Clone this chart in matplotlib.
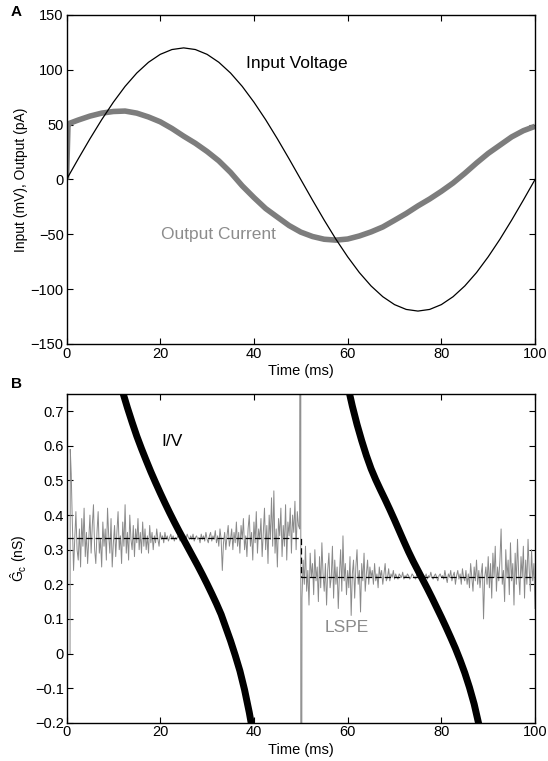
import matplotlib
matplotlib.use("Agg")
import matplotlib.pyplot as plt
import numpy as np

plt.rcParams['font.family'] = ['Liberation Sans', 'DejaVu Sans']
plt.rcParams['mathtext.fontset'] = 'custom'
plt.rcParams['mathtext.rm'] = 'Liberation Sans'
plt.rcParams['mathtext.it'] = 'Liberation Sans:italic'

# ---- panel A data ----
volt_t = np.linspace(0, 100, 41)
volt = [0, 18.8, 37.1, 54.5, 70.5, 84.9, 97.1, 106.9, 114.1, 118.5, 120,
        118.5, 114.1, 106.9, 97.1, 84.9, 70.5, 54.5, 37.1, 18.8, 0,
        -18.8, -37.1, -54.5, -70.5, -84.9, -97.1, -106.9, -114.1, -118.5, -120,
        -118.5, -114.1, -106.9, -97.1, -84.9, -70.5, -54.5, -37.1, -18.8, 0]

cur_t = [0, 0.3, 0.5] + list(np.linspace(2.5, 100, 40))
cur = [0, 48, 51,
       54.2, 57.8, 60.5, 62.0, 62.4, 60.5, 57.0, 52.6, 46.5, 39.5,
       33.0, 25.5, 17.0, 6.5, -5.8, -16.5, -26.5, -34.3, -42.0, -48.0,
       -52.0, -54.5, -55.3, -54.3, -51.5, -47.8, -43.3, -37.2, -31.0, -24.1,
       -17.8, -10.8, -3.2, 5.6, 15.0, 23.8, 31.3, 38.8, 44.5, 48.5]

# ---- panel B data ----
iv1_t = [11, 12, 13, 14, 15, 16, 17, 18, 19, 20, 21, 22, 23, 24, 25, 26, 27, 28,
         29, 30, 31, 32, 33, 34, 35, 36, 37, 38, 39, 40]
iv1 = [0.80, 0.755, 0.71, 0.668, 0.628, 0.592, 0.558, 0.525, 0.494, 0.464,
       0.435, 0.407, 0.380, 0.354, 0.329, 0.304, 0.279, 0.254, 0.228, 0.201,
       0.173, 0.144, 0.113, 0.075, 0.037, -0.005, -0.05, -0.105, -0.17, -0.245]
iv2_t = [59, 60, 61, 62, 63, 64, 65, 66, 67, 68, 69, 70, 71, 72, 73, 74, 75, 76,
         77, 78, 79, 80, 81, 82, 83, 84, 85, 86, 87, 88, 88.5]
iv2 = [0.83, 0.775, 0.715, 0.662, 0.615, 0.572, 0.534, 0.502, 0.473, 0.445,
       0.416, 0.386, 0.355, 0.324, 0.294, 0.266, 0.240, 0.214, 0.188, 0.161,
       0.133, 0.105, 0.076, 0.046, 0.015, -0.019, -0.056, -0.098, -0.146,
       -0.205, -0.24]

true_t = [0, 50, 50, 100]
true_g = [0.3333, 0.3333, 0.2222, 0.2222]

lspe_head_t = [0.75, 0.8, 1.0, 1.2]
lspe_head = [0.0, 0.59, 0.52, 0.40]
# samples every 0.25 ms from 1.5 to 49.5 ms
lspe1 = [0.24, 0.33, 0.41, 0.30, 0.27, 0.36, 0.25, 0.39, 0.31, 0.42, 0.28, 0.35, 0.26, 0.33, 0.40, 0.29, 0.37, 0.43, 0.30, 0.26,
         0.35, 0.41, 0.29, 0.33, 0.25, 0.38, 0.31, 0.36, 0.27, 0.42, 0.34, 0.29, 0.39, 0.25, 0.32, 0.37, 0.28, 0.35, 0.41, 0.30,
         0.34, 0.26, 0.38, 0.31, 0.43, 0.29, 0.35, 0.27, 0.40, 0.33, 0.30, 0.37, 0.28, 0.36, 0.32, 0.39, 0.30, 0.35, 0.29, 0.38,
         0.31, 0.36, 0.30, 0.34, 0.29, 0.37, 0.32, 0.35, 0.30, 0.34, 0.32, 0.36, 0.33, 0.31, 0.35, 0.33, 0.34, 0.32, 0.35, 0.33,
         0.34, 0.325, 0.335, 0.345, 0.33, 0.34, 0.325, 0.335, 0.33, 0.34, 0.335, 0.325, 0.345, 0.33, 0.335, 0.34, 0.33, 0.345, 0.335, 0.33,
         0.34, 0.33, 0.345, 0.325, 0.335, 0.34, 0.33, 0.335, 0.32, 0.345, 0.33, 0.34, 0.325, 0.35, 0.33, 0.32, 0.34, 0.35, 0.325, 0.34,
         0.33, 0.355, 0.32, 0.34, 0.31, 0.36, 0.33, 0.24, 0.32, 0.35, 0.30, 0.34, 0.37, 0.31, 0.33, 0.36, 0.30, 0.35, 0.32, 0.38,
         0.31, 0.35, 0.29, 0.37, 0.33, 0.39, 0.30, 0.34, 0.28, 0.36, 0.40, 0.31, 0.35, 0.27, 0.38, 0.32, 0.41, 0.29, 0.36, 0.33,
         0.39, 0.28, 0.35, 0.42, 0.30, 0.37, 0.26, 0.40, 0.33, 0.45, 0.31, 0.47, 0.29, 0.36, 0.25, 0.39, 0.34, 0.42, 0.28, 0.37,
         0.31, 0.43, 0.27, 0.38, 0.34, 0.42, 0.29, 0.40, 0.35, 0.44, 0.30, 0.41, 0.37]
lspe_jump_t = [49.75, 50.0, 50.0]
lspe_jump = [0.36, 3.0, -3.0]
# samples every 0.25 ms from 50.25 to 100 ms
lspe2 = [0.16, 0.27, 0.20, 0.31, 0.18, 0.24, 0.14, 0.29, 0.22, 0.26, 0.17, 0.30, 0.21, 0.25, 0.15, 0.28, 0.19, 0.32, 0.23, 0.18,
         0.26, 0.14, 0.24, 0.29, 0.19, 0.22, 0.31, 0.16, 0.27, 0.20, 0.25, 0.13, 0.23, 0.30, 0.18, 0.34, 0.21, 0.26, 0.17, 0.24,
         0.19, 0.28, 0.11, 0.23, 0.27, 0.16, 0.25, 0.30, 0.20, 0.24, 0.12, 0.26, 0.21, 0.29, 0.18, 0.23, 0.27, 0.20, 0.25, 0.22,
         0.24, 0.20, 0.26, 0.21, 0.23, 0.19, 0.25, 0.22, 0.24, 0.20, 0.23, 0.26, 0.21, 0.22, 0.245, 0.21, 0.23, 0.22, 0.24, 0.215,
         0.23, 0.22, 0.215, 0.23, 0.225, 0.22, 0.235, 0.215, 0.225, 0.22, 0.23, 0.225, 0.215, 0.22, 0.23, 0.225, 0.22, 0.215, 0.23, 0.22,
         0.225, 0.215, 0.23, 0.22, 0.225, 0.22, 0.23, 0.215, 0.225, 0.22, 0.235, 0.22, 0.215, 0.225, 0.23, 0.22, 0.21, 0.225, 0.23, 0.22,
         0.225, 0.215, 0.24, 0.22, 0.205, 0.23, 0.22, 0.24, 0.21, 0.225, 0.235, 0.20, 0.225, 0.24, 0.215, 0.23, 0.20, 0.245, 0.22, 0.21,
         0.24, 0.20, 0.23, 0.19, 0.26, 0.22, 0.18, 0.25, 0.21, 0.27, 0.20, 0.24, 0.19, 0.23, 0.26, 0.10, 0.22, 0.25, 0.20, 0.28,
         0.19, 0.26, 0.16, 0.29, 0.22, 0.31, 0.18, 0.25, 0.21, 0.27, 0.36, 0.20, 0.24, 0.15, 0.30, 0.22, 0.27, 0.17, 0.32, 0.21,
         0.26, 0.14, 0.29, 0.20, 0.33, 0.23, 0.17, 0.28, 0.22, 0.31, 0.16, 0.27, 0.20, 0.33, 0.24, 0.18, 0.30, 0.21, 0.26, 0.13]

lspe_t = np.concatenate([lspe_head_t, np.linspace(1.5, 49.5, len(lspe1)),
                         lspe_jump_t, np.linspace(50.25, 100, len(lspe2))])
lspe = np.concatenate([lspe_head, lspe1, lspe_jump, lspe2])

fig = plt.figure(figsize=(5.48, 7.61), dpi=100)
axA = fig.add_axes([0.1214, 0.548, 0.855, 0.4323])
axB = fig.add_axes([0.1214, 0.0503, 0.855, 0.432])

def style(ax):
    ax.tick_params(direction='in', top=True, right=True, length=4, width=0.8,
                   labelsize=10.5, pad=2)
    for s in ax.spines.values():
        s.set_linewidth(1.0)
    ax.set_xlim(0, 100)
    ax.set_xticks([0, 20, 40, 60, 80, 100])
    ax.set_xlabel('Time (ms)', fontsize=10.5, labelpad=2.5)

# Panel A
axA.plot(cur_t, cur, color='#7d7d7d', lw=4.0, solid_joinstyle='round',
         solid_capstyle='butt')
axA.plot(volt_t, volt, color='black', lw=0.9)
axA.set_ylim(-150, 150)
axA.set_yticks([-150, -100, -50, 0, 50, 100, 150])
axA.set_yticklabels(['\u2212150', '\u2212100', '\u221250', '0', '50', '100', '150'])
axA.set_ylabel('Input (mV), Output (pA)', fontsize=10, labelpad=2)
axA.text(38.3, 106, 'Input Voltage', fontsize=12.5, va='center')
axA.text(20.2, -50.6, 'Output Current', fontsize=12.5, va='center', color='#8c8c8c')
style(axA)

# Panel B
axB.plot(lspe_t, lspe, color='#8a8a8a', lw=0.7)
axB.plot(true_t, true_g, color='black', lw=0.9, dashes=(5, 2.5))
axB.plot(iv1_t, iv1, color='black', lw=5, solid_joinstyle='round')
axB.plot(iv2_t, iv2, color='black', lw=5, solid_joinstyle='round')
axB.set_ylim(-0.2, 0.75)
yt = np.round(np.arange(-0.2, 0.71, 0.1), 1)
axB.set_yticks(yt)
axB.set_yticklabels([('\u2212' + f'{abs(v):g}') if v < 0 else f'{v:g}' for v in yt])
axB.set_ylabel(r'$\hat{\mathrm{G}}_\mathrm{c}$ (nS)', fontsize=10, labelpad=4)
axB.text(20.2, 0.614, 'I/V', fontsize=12.5, va='center')
axB.text(55, 0.074, 'LSPE', fontsize=12.5, va='center', color='#8a8a8a')
style(axB)

fig.text(0.02, 0.994, 'A', fontsize=11, fontweight='bold', va='top')
fig.text(0.02, 0.505, 'B', fontsize=11, fontweight='bold', va='top')

fig.savefig('out.png', dpi=100)
